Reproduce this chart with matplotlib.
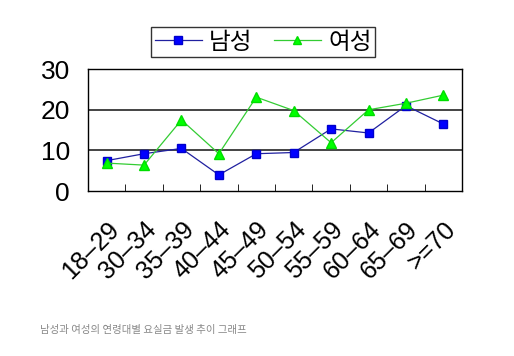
import matplotlib
matplotlib.use("Agg")
import matplotlib.pyplot as plt
from matplotlib.ticker import FixedLocator

plt.rcParams['font.family'] = ['Noto Sans CJK KR', 'DejaVu Sans']

ages = ['18–29', '30–34', '35–39', '40–44', '45–49', '50–54',
        '55–59', '60–64', '65–69', '>=70']
male = [7.5, 9.2, 10.5, 4.0, 9.2, 9.5, 15.3, 14.3, 21.0, 16.5]
female = [6.9, 6.4, 17.5, 9.2, 23.1, 19.8, 11.9, 20.0, 21.6, 23.6]

fig = plt.figure(figsize=(5.14, 3.56), dpi=100)
ax = fig.add_axes([0.171, 0.463, 0.728, 0.343])

x = list(range(len(ages)))
ax.plot(x, male, color='#2020a0', lw=0.9, marker='s', ms=6,
        mfc='#0000ff', mec='#0000cc', label='남성')
ax.plot(x, female, color='#33cc33', lw=0.9, marker='^', ms=6.5,
        mfc='#00ff00', mec='#00dd00', label='여성')

ax.set_xlim(-0.5, len(ages) - 0.5)
ax.set_ylim(0, 30)
for v in (10, 20):
    ax.axhline(v, color='#444444', lw=1.4, zorder=0)

ax.set_yticks([0, 10, 20, 30])
ax.set_yticklabels(['0', '10', '20', '30'], family='Liberation Sans', fontsize=19)
ax.tick_params(axis='y', length=0, pad=13)

ax.set_xticks(x)
ax.set_xticklabels(ages, rotation=45, ha='right', rotation_mode='anchor',
                   family='Liberation Sans', fontsize=18)
ax.tick_params(axis='x', length=0, pad=19)
ax.xaxis.set_minor_locator(FixedLocator([i + 0.5 for i in x[:-1]]))
ax.tick_params(axis='x', which='minor', direction='in', length=5, color='black')

for s in ax.spines.values():
    s.set_color('black')
    s.set_linewidth(1.0)

leg = fig.legend(loc='center', bbox_to_anchor=(0.512, 0.882), ncol=2,
                 fontsize=17, frameon=True, fancybox=False, edgecolor='black',
                 handlelength=2.0, columnspacing=0.9, borderpad=0.15,
                 handletextpad=0.3, markerscale=0.9)
leg.get_frame().set_linewidth(1.0)

fig.text(0.078, 0.064, '남성과 여성의 연령대별 요실금 발생 추이 그래프',
         fontsize=7.5, color='#888888')

fig.savefig('out.png', dpi=100)
